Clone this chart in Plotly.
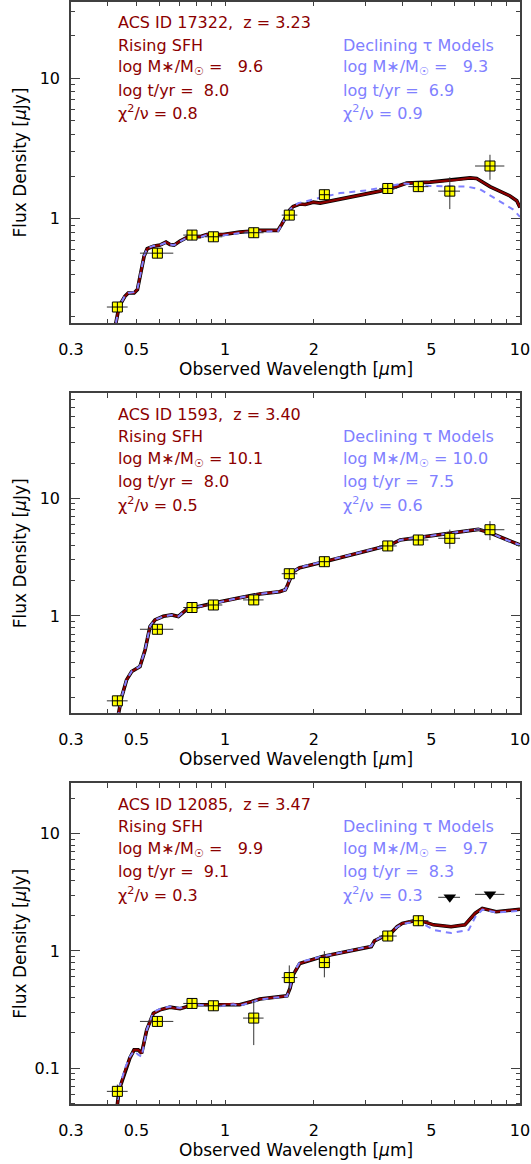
import plotly.graph_objects as go
import math

# ---------------- data ----------------
# filter central wavelengths and widths [micron]
wl = [0.431, 0.589, 0.772, 0.912, 1.25, 1.65, 2.17, 3.56, 4.52, 5.78, 7.91]
wl_lo = [0.397, 0.514, 0.721, 0.854, 1.15, 1.555, 2.09, 3.33, 4.18, 5.28, 7.04]
wl_hi = [0.467, 0.667, 0.822, 0.978, 1.35, 1.757, 2.27, 3.82, 4.89, 6.26, 8.85]

# panel 1 : ACS ID 17322
p1_flux = [0.235, 0.568, 0.764, 0.743, 0.794, 1.06, 1.48, 1.64, 1.69, 1.57, 2.37]
p1_err = [0.012, 0.02, 0.02, 0.02, 0.03, 0.07, 0.08, 0.07, 0.07, 0.40, 0.48]
p1_rise_wl = [0.40, 0.426, 0.437, 0.457, 0.469, 0.491, 0.504, 0.517, 0.531, 0.544, 0.571, 0.601,
              0.630, 0.650, 0.671, 0.703, 0.750, 0.821, 0.866, 0.985, 1.12, 1.31, 1.51, 1.555,
              1.62, 1.66, 1.70, 1.79, 1.87, 1.99, 2.10, 2.45, 2.87, 3.35, 3.72, 4.13, 4.95,
              6.10, 6.77, 7.13, 7.91, 9.25, 9.75, 10.0]
p1_rise = [0.13, 0.181, 0.238, 0.280, 0.296, 0.296, 0.313, 0.411, 0.541, 0.611, 0.637, 0.648,
           0.681, 0.655, 0.648, 0.692, 0.744, 0.744, 0.772, 0.772, 0.802, 0.825, 0.825, 0.911,
           1.07, 1.16, 1.22, 1.27, 1.26, 1.31, 1.29, 1.37, 1.47, 1.57, 1.66, 1.79, 1.82,
           1.89, 1.95, 1.93, 1.69, 1.45, 1.34, 1.20]
p1_decl_wl = [0.40, 0.426, 0.437, 0.457, 0.469, 0.491, 0.504, 0.517, 0.531, 0.544, 0.571, 0.601,
              0.630, 0.650, 0.671, 0.703, 0.750, 0.821, 0.866, 0.985, 1.12, 1.31, 1.51, 1.555,
              1.62, 1.66, 1.70, 1.77, 1.99, 2.45, 3.02, 4.02, 4.95, 6.60, 7.32, 8.34, 9.49, 10.0]
p1_decl = [0.13, 0.181, 0.238, 0.282, 0.296, 0.300, 0.315, 0.411, 0.545, 0.615, 0.640, 0.650,
           0.675, 0.655, 0.648, 0.690, 0.740, 0.735, 0.765, 0.760, 0.790, 0.810, 0.815, 0.905,
           1.07, 1.16, 1.22, 1.29, 1.37, 1.52, 1.59, 1.78, 1.71, 1.69, 1.62, 1.37, 1.16, 1.03]

# panel 2 : ACS ID 1593
p2_flux = [0.189, 0.77, 1.18, 1.24, 1.37, 2.29, 2.90, 3.95, 4.44, 4.59, 5.43]
p2_err = [0.012, 0.03, 0.04, 0.04, 0.06, 0.12, 0.12, 0.15, 0.2, 0.85, 1.0]
p2_rise_wl = [0.42, 0.435, 0.446, 0.463, 0.482, 0.514, 0.535, 0.556, 0.578, 0.617, 0.659, 0.694,
              0.741, 0.821, 0.960, 1.12, 1.31, 1.53, 1.60, 1.62, 1.66, 1.70, 1.79, 1.82, 2.17,
              2.87, 3.62, 3.92, 4.58, 5.64, 6.60, 7.22, 7.91, 9.01, 10.0]
p2_rise = [0.11, 0.148, 0.205, 0.285, 0.336, 0.370, 0.513, 0.811, 0.925, 0.994, 1.02, 0.99,
           1.14, 1.20, 1.32, 1.43, 1.54, 1.61, 1.67, 1.78, 2.03, 2.38, 2.58, 2.60, 2.90,
           3.46, 4.02, 4.44, 4.68, 5.06, 5.33, 5.47, 5.12, 4.44, 4.02]
p2_decl_wl = p2_rise_wl
p2_decl = [0.11, 0.148, 0.205, 0.287, 0.338, 0.372, 0.515, 0.815, 0.93, 0.99, 1.02, 0.99,
           1.14, 1.21, 1.32, 1.43, 1.54, 1.61, 1.67, 1.80, 2.05, 2.40, 2.58, 2.62, 2.92,
           3.46, 4.02, 4.44, 4.70, 5.06, 5.35, 5.47, 5.14, 4.44, 4.02]

# panel 3 : ACS ID 12085
p3_flux = [0.0632, 0.25, 0.356, 0.340, 0.267, 0.592, 0.795, 1.34, 1.81]
p3_err = [0.009, 0.01, 0.012, 0.012, 0.11, 0.16, 0.2, 0.1, 0.1]
p3_ul_wl = [5.78, 7.91]
p3_ul = [2.87, 3.04]
p3_rise_wl = [0.42, 0.431, 0.437, 0.457, 0.475, 0.491, 0.507, 0.521, 0.542, 0.571, 0.601, 0.650,
              0.676, 0.703, 0.780, 0.936, 1.066, 1.12, 1.23, 1.31, 1.62, 1.66, 1.70, 1.79,
              2.14, 2.73, 3.13, 3.21, 3.39, 3.68, 3.83, 3.99, 4.52, 5.09, 5.84, 6.50, 7.05,
              7.45, 8.30, 9.25, 10.0]
p3_rise = [0.035, 0.049, 0.0653, 0.0936, 0.1216, 0.143, 0.143, 0.134, 0.212, 0.294, 0.314, 0.331,
           0.324, 0.321, 0.347, 0.347, 0.353, 0.347, 0.370, 0.388, 0.413, 0.481, 0.624, 0.78,
           0.895, 1.02, 1.09, 1.22, 1.30, 1.45, 1.61, 1.72, 1.84, 1.67, 1.61, 1.67, 2.10,
           2.31, 2.16, 2.24, 2.27]
p3_decl_wl = [0.42, 0.431, 0.437, 0.457, 0.475, 0.491, 0.507, 0.521, 0.542, 0.571, 0.601, 0.650,
              0.676, 0.703, 0.780, 0.936, 1.066, 1.12, 1.23, 1.31, 1.62, 1.66, 1.70, 1.79,
              2.14, 2.73, 3.13, 3.21, 3.39, 3.68, 3.83, 3.99, 4.52, 5.09, 5.84, 6.70, 7.05,
              7.45, 8.30, 9.25, 10.0]
p3_decl = [0.035, 0.049, 0.067, 0.099, 0.125, 0.140, 0.130, 0.125, 0.212, 0.300, 0.320, 0.335,
           0.330, 0.325, 0.350, 0.335, 0.350, 0.340, 0.365, 0.385, 0.410, 0.49, 0.64, 0.80,
           0.90, 1.03, 1.10, 1.22, 1.32, 1.47, 1.60, 1.70, 1.80, 1.51, 1.42, 1.51, 1.95,
           2.25, 2.13, 2.18, 2.20]

# text
p_ids = ["ACS ID 17322,\u00a0\u00a0z = 3.23", "ACS ID 1593,\u00a0\u00a0z = 3.40", "ACS ID 12085,\u00a0\u00a0z = 3.47"]
rise_mass = ["\u00a0\u00a09.6", "10.1", "\u00a0\u00a09.9"]
rise_age = ["8.0", "8.0", "9.1"]
rise_chi = ["0.8", "0.5", "0.3"]
decl_mass = ["\u00a0\u00a09.3", "10.0", "\u00a0\u00a09.7"]
decl_age = ["6.9", "7.5", "8.3"]
decl_chi = ["0.9", "0.6", "0.3"]

yranges = [(0.18, 35.0), (0.148, 79.0), (0.049, 27.0)]

# ---------------- figure ----------------
W, H = 531, 1164
RED = "#8b0000"
BLUE = "#8080ff"
FONT = "DejaVu Sans"
panels_px = [(1.7, 323.3), (393.3, 713.3), (783.3, 1104.3)]
L, R = 71, 11

fig = go.Figure()

flux_sets = [p1_flux, p2_flux, p3_flux]
err_sets = [p1_err, p2_err, p3_err]
rise_sets = [(p1_rise_wl, p1_rise), (p2_rise_wl, p2_rise), (p3_rise_wl, p3_rise)]
decl_sets = [(p1_decl_wl, p1_decl), (p2_decl_wl, p2_decl), (p3_decl_wl, p3_decl)]

for i in range(3):
    xa = "x" if i == 0 else f"x{i+1}"
    ya = "y" if i == 0 else f"y{i+1}"
    rw, rf = rise_sets[i]
    dw, df = decl_sets[i]
    fig.add_trace(go.Scatter(x=rw, y=rf, mode="lines", line=dict(color="black", width=3.6),
                             xaxis=xa, yaxis=ya, showlegend=False, hoverinfo="skip"))
    fig.add_trace(go.Scatter(x=rw, y=rf, mode="lines", line=dict(color=RED, width=2.2),
                             xaxis=xa, yaxis=ya, showlegend=False))
    fig.add_trace(go.Scatter(x=dw, y=df, mode="lines", line=dict(color=BLUE, width=2, dash="6px,5px"),
                             xaxis=xa, yaxis=ya, showlegend=False))
    fl = flux_sets[i]
    n = len(fl)
    fig.add_trace(go.Scatter(
        x=wl[:n], y=fl, mode="markers", xaxis=xa, yaxis=ya, showlegend=False,
        marker=dict(symbol="square-cross", size=10, color="#ffff00", line=dict(color="black", width=1)),
        error_x=dict(type="data", symmetric=False,
                     array=[wl_hi[k] - wl[k] for k in range(n)],
                     arrayminus=[wl[k] - wl_lo[k] for k in range(n)],
                     color="#333333", thickness=1, width=0),
        error_y=dict(type="data", array=err_sets[i], color="#333333", thickness=1, width=0),
    ))
    if i == 2:
        idx = [wl.index(v) for v in p3_ul_wl]
        fig.add_trace(go.Scatter(
            x=p3_ul_wl, y=p3_ul, mode="markers", xaxis=xa, yaxis=ya, showlegend=False,
            marker=dict(symbol="triangle-down", size=11, color="black"),
            error_x=dict(type="data", symmetric=False,
                         array=[wl_hi[k] - wl[k] for k in idx],
                         arrayminus=[wl[k] - wl_lo[k] for k in idx],
                         color="#333333", thickness=1, width=0),
        ))

xminor = [0.4, 0.6, 0.7, 0.8, 0.9, 3, 4, 6, 7, 8, 9]
yminor = [m * d for d in (0.01, 0.1, 1, 10) for m in range(2, 10)]
axcol = "#404040"
PW = W - L - R

layout = dict(width=W, height=H, margin=dict(l=L, r=R, t=0, b=0),
              plot_bgcolor="white", paper_bgcolor="white",
              font=dict(family=FONT, size=16, color="black"))

annotations = []
for i in range(3):
    sfx = "" if i == 0 else str(i + 1)
    top, bot = panels_px[i]
    dom = [1 - bot / H, 1 - top / H]
    lo, hi = yranges[i]
    layout["xaxis" + sfx] = dict(
        type="log", range=[math.log10(0.3), 1.0], domain=[0, 1], anchor="y" + sfx,
        tickmode="array", tickvals=[0.3, 0.5, 1, 2, 5, 10], ticktext=["0.3", "0.5", "1", "2", "5", "10"],
        ticks="inside", ticklen=5, tickwidth=1, tickcolor=axcol,
        minor=dict(tickmode="array", tickvals=xminor, ticks="inside", ticklen=5, tickwidth=1, tickcolor=axcol),
        showline=True, linecolor=axcol, linewidth=1.5, mirror="allticks",
        showgrid=False, zeroline=False, ticklabelstandoff=11,
        tickfont=dict(family=FONT, size=16), automargin=False)
    layout["yaxis" + sfx] = dict(
        type="log", range=[math.log10(lo), math.log10(hi)], domain=dom, anchor="x" + sfx,
        tickmode="array", tickvals=[0.1, 1, 10], ticktext=["0.1", "1", "10"],
        ticks="inside", ticklen=9, tickwidth=1, tickcolor=axcol,
        minor=dict(tickmode="array", tickvals=yminor, ticks="inside", ticklen=4.5, tickwidth=1, tickcolor=axcol),
        showline=True, linecolor=axcol, linewidth=1.5, mirror="allticks",
        showgrid=False, zeroline=False, ticklabelstandoff=6,
        tickfont=dict(family=FONT, size=16), automargin=False)

    ph = bot - top
    offs = [21, 43.5, 66, 88.5, 111]

    def yd(o):
        return 1 - o / ph
    red_lines = [p_ids[i], "Rising SFH",
                 f"log M\u2217/M<sub>\u2609</sub> = {rise_mass[i]}",
                 f"log t/yr = \u00a0{rise_age[i]}",
                 f"\u03c7<sup>2</sup>/\u03bd = {rise_chi[i]}"]
    blue_lines = ["Declining \u03c4 Models",
                  f"log M\u2217/M<sub>\u2609</sub> = {decl_mass[i]}",
                  f"log t/yr = \u00a0{decl_age[i]}",
                  f"\u03c7<sup>2</sup>/\u03bd = {decl_chi[i]}"]
    for j, t in enumerate(red_lines):
        annotations.append(dict(text=t, xref="x" + sfx + " domain", yref="y" + sfx + " domain",
                                x=(116 - L) / PW, y=yd(offs[j]), xanchor="left", yanchor="middle",
                                showarrow=False, font=dict(family=FONT, size=16, color=RED)))
    for j, t in enumerate(blue_lines):
        annotations.append(dict(text=t, xref="x" + sfx + " domain", yref="y" + sfx + " domain",
                                x=(341 - L) / PW, y=yd(offs[j + 1]), xanchor="left", yanchor="middle",
                                showarrow=False, font=dict(family=FONT, size=16, color=BLUE)))
    # axis titles
    annotations.append(dict(text="Observed Wavelength [<i>\u03bc</i>m]", xref="paper", yref="paper",
                            x=0.5, y=1 - (bot + 46) / H, xanchor="center", yanchor="middle",
                            showarrow=False, font=dict(family=FONT, size=17, color="black")))
    annotations.append(dict(text="Flux Density [<i>\u03bc</i>Jy]", xref="paper", yref="paper",
                            x=(20 - L) / PW, y=1 - (top + bot) / 2 / H, xanchor="center", yanchor="middle",
                            textangle=-90, showarrow=False, font=dict(family=FONT, size=17, color="black")))

layout["annotations"] = annotations
fig.update_layout(**layout)
fig.write_html("out.html", config={"displayModeBar": False},
               post_script="document.body.style.margin='0';document.body.style.overflow='hidden';")
